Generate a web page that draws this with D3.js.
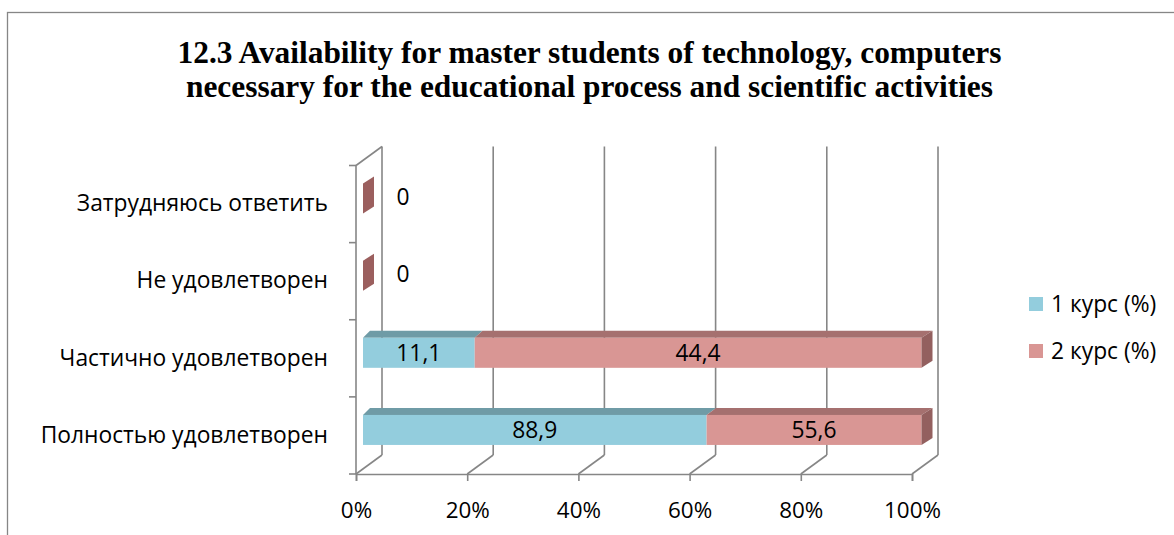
<!DOCTYPE html>
<html><head><meta charset="utf-8">
<script src="https://cdn.jsdelivr.net/npm/d3@7"></script>
<style>html,body{margin:0;padding:0;background:#fff;}svg{display:block;}</style>
</head><body>
<svg id="c" width="1174" height="535"></svg>
<script>
const categories = ["Затрудняюсь ответить","Не удовлетворен","Частично удовлетворен","Полностью удовлетворен"];
const seriesNames = ["1 курс (%)","2 курс (%)"];
const course1 = [0, 0, 11.1, 88.9];
const course2 = [0, 0, 44.4, 55.6];
const xTicks = [0, 0.2, 0.4, 0.6, 0.8, 1];
const titleLines = ["12.3 Availability for master students of technology, computers",
                    "necessary for the educational process and scientific activities"];

const frontCol = ["#93CDDD", "#D99694"];
const topCol   = ["#6F9BA6", "#A5706F"];
const sideCol  = ["#6F9BA6", "#93605F"];
const zeroCol  = ["#6F9BA6", "#9B5F5E"];
const gridCol = "#868686";
const FONT = "'Open Sans', sans-serif";
const FS = "22.8px";
const FS_TICK = "22.4px";

const svg = d3.select("#c");
// border
svg.append("rect").attr("x",7.5).attr("y",12.5).attr("width",1300).attr("height",700)
  .attr("fill","none").attr("stroke",gridCol).attr("stroke-width",1.3);

// title
svg.append("g").selectAll("text").data(titleLines).join("text")
  .attr("x",589.5).attr("y",(d,i)=>63+i*34)
  .attr("text-anchor","middle")
  .style("font-family","'Liberation Serif', 'Times New Roman', serif")
  .style("font-weight","bold").style("font-size","31.4px").attr("fill","#000")
  .text(d=>d);

// scales
const x = d3.scaleLinear().domain([0,1]).range([356,912]);      // front plane
const xb = d3.scaleLinear().domain([0,1]).range([363,921.5]);   // bar front plane
const y = d3.scaleBand().domain(categories).range([165.5,474]).padding(0);
const depth = {dx:26, dy:-19};
const barH = 30, barShift = -5.5;

// data table
const table = categories.map((c,i)=>({cat:c, s0:course1[i], s1:course2[i]}));
const stack = d3.stack().keys(["s0","s1"]).offset(d3.stackOffsetExpand);
const stacked = stack(table);

const walls = svg.append("g").attr("stroke",gridCol).attr("stroke-width",1.6).attr("fill","none");
// back gridlines
walls.selectAll("line.grid").data(xTicks).join("line").attr("class","grid")
  .attr("x1",d=>x(d)+depth.dx).attr("x2",d=>x(d)+depth.dx)
  .attr("y1",y.range()[0]+depth.dy).attr("y2",y.range()[1]+depth.dy);
// floor diagonals
walls.selectAll("line.floor").data(xTicks).join("line").attr("class","floor")
  .attr("x1",d=>x(d)).attr("y1",y.range()[1])
  .attr("x2",d=>x(d)+depth.dx).attr("y2",y.range()[1]+depth.dy);
// left wall top diagonal
walls.append("line").attr("x1",x(0)).attr("y1",y.range()[0])
  .attr("x2",x(0)+depth.dx).attr("y2",y.range()[0]+depth.dy);

// left axis line & boundary ticks
const bounds = categories.map(c=>y(c)).concat([y.range()[1]]);
walls.append("line").attr("x1",x(0)).attr("x2",x(0)).attr("y1",y.range()[0]).attr("y2",y.range()[1]);
walls.selectAll("line.ytick").data(bounds).join("line").attr("class","ytick")
  .attr("x1",x(0)-7).attr("x2",x(0)).attr("y1",d=>d).attr("y2",d=>d);

// bottom axis
const xAxis = d3.axisBottom(x).tickValues(xTicks).tickFormat(d3.format(".0%")).tickSize(7).tickPadding(21);
const gx = svg.append("g").attr("transform",`translate(0,${y.range()[1]})`).call(xAxis);
gx.select(".domain").attr("stroke",gridCol).attr("stroke-width",1.6);
gx.selectAll(".tick line").attr("stroke",gridCol).attr("stroke-width",1.6);
gx.selectAll("text").style("font-family",FONT).style("font-size",FS_TICK).attr("fill","#000");

// left axis labels
const yAxis = d3.axisLeft(y).tickSize(0).tickPadding(28);
const gy = svg.append("g").attr("transform",`translate(${x(0)},0)`).call(yAxis);
gy.select(".domain").remove();
gy.selectAll("text").style("font-family",FONT).style("font-size",FS).attr("fill","#000");

// 3D bars
const topDx = px => 7 + 4*(px - xb(0))/(xb(1)-xb(0));
const topDy = -7, sideDx = 11;
const bars = svg.append("g");
stacked.forEach((ser,si)=>{
  ser.forEach((d,ci)=>{
    const cat = categories[ci];
    const yTop = y(cat) + y.bandwidth()/2 + barShift - barH/2;
    const x0 = xb(d[0]), x1 = xb(d[1]);
    const val = table[ci][ser.key];
    if (val > 0) {
      bars.append("path").attr("fill",topCol[si])
        .attr("d",`M${x0},${yTop} L${x0+topDx(x0)},${yTop+topDy} L${x1+topDx(x1)},${yTop+topDy} L${x1},${yTop} Z`);
      bars.append("rect").attr("x",x0).attr("y",yTop).attr("width",x1-x0).attr("height",barH).attr("fill",frontCol[si]);
      if (d[1] >= 1 - 1e-9) {
        const dx = topDx(x1);
        bars.append("path").attr("fill",sideCol[si])
          .attr("d",`M${x1},${yTop} L${x1+dx},${yTop+topDy} L${x1+dx},${yTop+topDy+barH} L${x1},${yTop+barH} Z`);
      }
    } else if (si === stacked.length-1) {
      bars.append("path").attr("fill",zeroCol[si])
        .attr("d",`M${x0},${yTop} L${x0+sideDx},${yTop+topDy} L${x0+sideDx},${yTop+topDy+barH} L${x0},${yTop+barH} Z`);
    }
  });
});

// labels
const fmt = v => v === 0 ? "0" : v.toFixed(1).replace(".", ",");
const labels = svg.append("g").style("font-family",FONT).style("font-size",FS).attr("fill","#000");
stacked.forEach((ser,si)=>{
  ser.forEach((d,ci)=>{
    const cat = categories[ci];
    const val = table[ci][ser.key];
    const cy = y(cat) + y.bandwidth()/2 + barShift;
    if (val > 0) {
      labels.append("text").attr("x",(xb(d[0])+xb(d[1]))/2).attr("y",cy).attr("dy","0.35em")
        .attr("text-anchor","middle").text(fmt(val));
    } else if (si === stacked.length-1) {
      labels.append("text").attr("x",xb(d[0])+40).attr("y",cy-2).attr("dy","0.35em")
        .attr("text-anchor","middle").text(fmt(val));
    }
  });
});

// legend
const leg = svg.append("g").attr("transform","translate(1029,297)");
const li = leg.selectAll("g").data(seriesNames).join("g").attr("transform",(d,i)=>`translate(0,${i*47})`);
li.append("rect").attr("width",14).attr("height",14).attr("fill",(d,i)=>frontCol[i]);
li.append("text").attr("x",22).attr("y",7).attr("dy","0.35em")
  .style("font-family",FONT).style("font-size",FS).attr("fill","#000").text(d=>d);
</script>
</body></html>
